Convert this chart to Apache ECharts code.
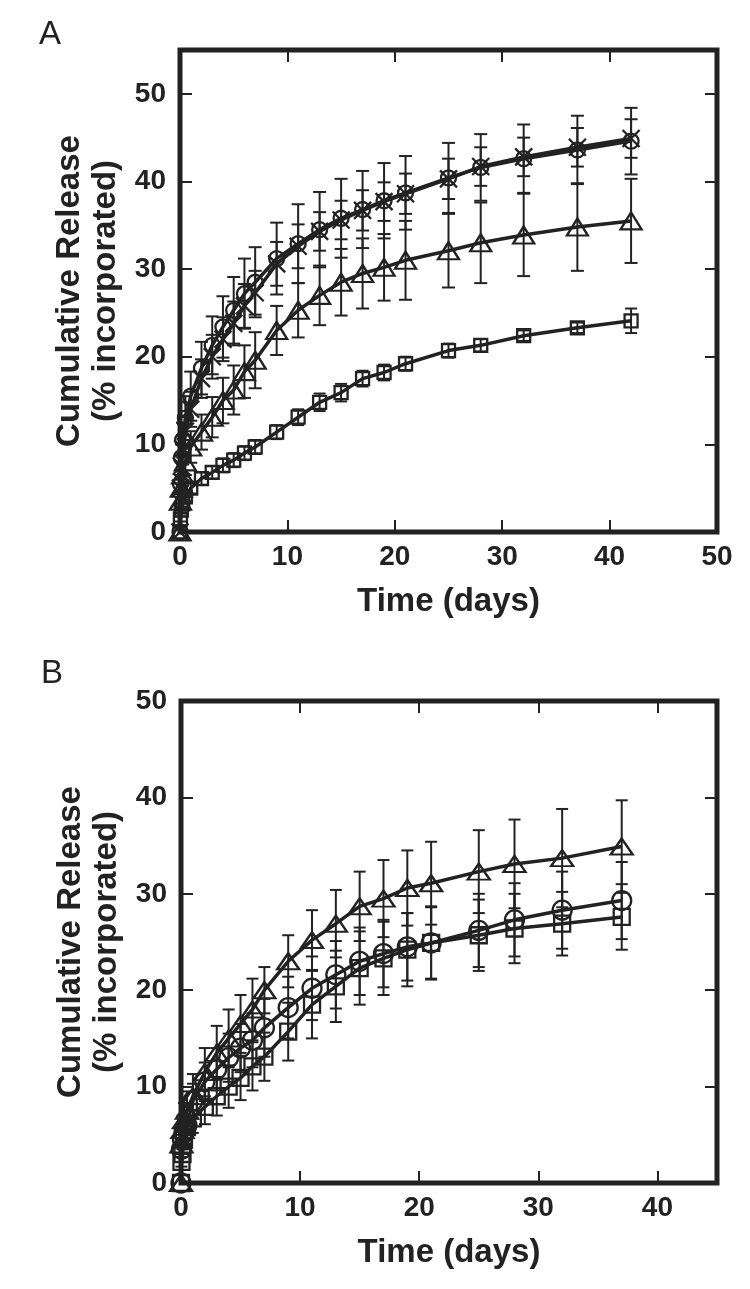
<!DOCTYPE html>
<html>
<head>
<meta charset="utf-8">
<script src="https://cdn.jsdelivr.net/npm/echarts@6/dist/echarts.min.js"></script>
<style>
html,body{margin:0;padding:0;background:#fff;}
#chart{width:750px;height:1289px;}
</style>
</head>
<body>
<div id="chart"></div>
<script>
// ---------- Panel A data ----------
const timeA = [0, 0.04, 0.125, 0.25, 0.5, 1, 2, 3, 4, 5, 6, 7, 9, 11, 13, 15, 17, 19, 21, 25, 28, 32, 37, 42];
const aCircle    = [0, 5.5, 8.5, 10.5, 13, 15.5, 18.7, 21.3, 23.4, 25.3, 27.2, 28.5, 31.2, 32.9, 34.5, 35.8, 36.8, 37.8, 38.7, 40.4, 41.6, 42.6, 43.6, 44.6];
const aCircleErr = [0, 1, 1.5, 2, 2.5, 2.8, 3, 3.3, 3.5, 3.8, 4, 4, 4.1, 4.5, 4.3, 4.5, 4.4, 4.3, 4.2, 4, 3.8, 3.9, 3.9, 3.8];
const aCross     = [0, 5, 7.5, 9.5, 11.5, 14, 17.5, 20, 22, 23.8, 25.8, 27.3, 30.6, 32.6, 34.3, 35.6, 36.7, 37.7, 38.6, 40.3, 41.7, 42.8, 43.9, 44.9];
const aCrossErr  = [0, 1, 1.2, 1.5, 1.8, 2, 2.2, 2.5, 2.5, 2.5, 2.5, 2.5, 2.5, 2.5, 2.2, 2.2, 2.3, 2.2, 2.3, 2.3, 2.2, 2.2, 2.2, 2.2];
const aTri       = [0, 3.5, 5, 6.5, 8, 9.7, 11.4, 13.1, 15, 16.2, 18.3, 19.6, 23, 25.3, 27, 28.5, 29.5, 30.2, 31, 32.1, 33, 33.9, 34.8, 35.5];
const aTriErr    = [0, 0.8, 1, 1.2, 1.5, 1.8, 2, 2.3, 2.6, 2.8, 3, 3.2, 2.8, 3.1, 3.4, 3.8, 4, 3.8, 4.5, 4.2, 4.6, 4.7, 5, 4.8];
const aSq        = [0, 1.5, 2.5, 3.2, 4, 5, 6.1, 6.8, 7.6, 8.2, 9, 9.7, 11.4, 13.1, 14.8, 15.9, 17.5, 18.2, 19.2, 20.7, 21.3, 22.4, 23.3, 24.1];
const aSqErr     = [0, 0.3, 0.4, 0.5, 0.5, 0.6, 0.7, 0.7, 0.8, 0.8, 0.8, 0.8, 0.8, 0.9, 1, 1, 0.9, 0.9, 0.8, 0.8, 0.7, 0.6, 0.6, 1.4];

// ---------- Panel B data ----------
const timeB = [0, 0.04, 0.125, 0.25, 0.5, 1, 2, 3, 4, 5, 6, 7, 9, 11, 13, 15, 17, 19, 21, 25, 28, 32, 37];
const bTri       = [0, 4, 5.5, 6.5, 7.5, 9, 11.5, 13.5, 15, 16.5, 18, 20, 23, 25.2, 26.9, 28.7, 29.5, 30.6, 31.1, 32.3, 33.1, 33.7, 34.9];
const bTriErr    = [0, 1, 1.5, 1.8, 2, 2.3, 2.5, 2.8, 3, 3, 3.2, 2.4, 2.7, 3.1, 3.5, 3.6, 4, 3.9, 4.3, 4.3, 4.6, 5.1, 4.8];
const bCircle    = [0, 3.5, 4.5, 5.2, 6, 8.5, 10.5, 11.8, 13, 14, 14.8, 16.1, 18.2, 20.2, 21.6, 23, 23.8, 24.5, 24.9, 26.2, 27.3, 28.3, 29.3];
const bCircleErr = [0, 0.8, 1, 1.2, 1.5, 1.8, 2, 2.2, 2.5, 2.5, 2.8, 3, 3.2, 3.3, 3.5, 3.5, 3.5, 3.5, 3.7, 3.8, 3.8, 4, 4];
const bSq        = [0, 2.2, 3, 4.5, 5.8, 6.7, 7.9, 9, 10, 10.9, 12.1, 13.1, 15.7, 18.5, 20.4, 22.3, 23.3, 24.2, 24.9, 25.7, 26.4, 26.9, 27.6];
const bSqErr     = [0, 0.5, 0.8, 1, 1.2, 1.5, 1.8, 2, 2.2, 2.3, 2.5, 2.5, 3, 3.5, 3.7, 3.8, 3.8, 3.8, 3.8, 3.7, 3.6, 3.3, 3.4];

// ---------- axis / label text ----------
const xTicksA = [0, 10, 20, 30, 40, 50];
const yTicksA = [0, 10, 20, 30, 40, 50];
const xTicksB = [0, 10, 20, 30, 40];
const yTicksB = [0, 10, 20, 30, 40, 50];
const xTitle = 'Time (days)';
const yTitle = 'Cumulative Release\n(% incorporated)';
const panelLabels = ['A', 'B'];

const INK = '#222';
const FONT = '"Liberation Sans", Arial, Helvetica, sans-serif';

function pairs(t, v) { return t.map((x, i) => [x, v[i]]); }
function triples(t, v, e) { return t.map((x, i) => [x, v[i], e[i]]); }

function errRender(hw) {
  return function (params, api) {
    const x = api.value(0), y = api.value(1), e = api.value(2);
    if (!e) return null;
    const top = api.coord([x, y + e]);
    const bot = api.coord([x, y - e]);
    const st = { stroke: INK, lineWidth: 2 };
    return {
      type: 'group',
      children: [
        { type: 'line', shape: { x1: top[0], y1: top[1], x2: bot[0], y2: bot[1] }, style: st },
        { type: 'line', shape: { x1: top[0] - hw, y1: top[1], x2: top[0] + hw, y2: top[1] }, style: st },
        { type: 'line', shape: { x1: bot[0] - hw, y1: bot[1], x2: bot[0] + hw, y2: bot[1] }, style: st }
      ]
    };
  };
}

const CROSS = 'path://M0,0L10,10M10,0L0,10';

function lineSeries(idx, t, v, symbol, size, lw) {
  return {
    type: 'line', xAxisIndex: idx * 2, yAxisIndex: idx * 2,
    data: pairs(t, v), symbol: symbol, symbolSize: size, showAllSymbol: true,
    lineStyle: { color: INK, width: lw },
    itemStyle: { color: 'rgba(0,0,0,0)', borderColor: INK, borderWidth: 2.3 },
    z: 3, animation: false, silent: true
  };
}
function errSeries(idx, t, v, e, hw) {
  return {
    type: 'custom', xAxisIndex: idx * 2, yAxisIndex: idx * 2,
    data: triples(t, v, e), renderItem: errRender(hw),
    encode: { x: 0, y: 1 }, z: 2, animation: false, silent: true, clip: false
  };
}

function tick() { return { show: true, inside: true, length: 12, lineStyle: { color: INK, width: 2 } }; }

function xAxes(grid, max, ticks) {
  const lbl = ticks.map(String);
  return [
    {
      type: 'value', gridIndex: grid, min: 0, max: max, interval: 10, position: 'bottom',
      axisLine: { show: false, onZero: false },
      axisTick: tick(),
      axisLabel: { color: INK, fontFamily: FONT, fontWeight: 'bold', fontSize: 28, margin: 11,
        formatter: v => lbl.indexOf(String(v)) >= 0 ? String(v) : '' },
      splitLine: { show: false },
      name: xTitle, nameLocation: 'middle', nameGap: 53,
      nameTextStyle: { color: INK, fontFamily: FONT, fontWeight: 'bold', fontSize: 33 }
    },
    {
      type: 'value', gridIndex: grid, min: 0, max: max, interval: 10, position: 'top',
      axisLine: { show: false, onZero: false },
      axisTick: tick(),
      axisLabel: { show: false }, splitLine: { show: false }
    }
  ];
}
function yAxes(grid, max, ticks) {
  const lbl = ticks.map(String);
  return [
    {
      type: 'value', gridIndex: grid, min: 0, max: max, interval: 10, position: 'left',
      axisLine: { show: false, onZero: false },
      axisTick: tick(),
      axisLabel: { color: INK, fontFamily: FONT, fontWeight: 'bold', fontSize: 28, margin: 14,
        formatter: v => lbl.indexOf(String(v)) >= 0 ? String(v) : '' },
      splitLine: { show: false },
      name: yTitle, nameLocation: 'middle', nameGap: 56, nameRotate: 90,
      nameTextStyle: { color: INK, fontFamily: FONT, fontWeight: 'bold', fontSize: 33, lineHeight: 36 }
    },
    {
      type: 'value', gridIndex: grid, min: 0, max: max, interval: 10, position: 'right',
      axisLine: { show: false, onZero: false },
      axisTick: tick(),
      axisLabel: { show: false }, splitLine: { show: false }
    }
  ];
}

const chart = echarts.init(document.getElementById('chart'), null, { renderer: 'canvas' });
const option = {
  backgroundColor: '#fff',
  animation: false,
  title: [
    { text: panelLabels[0], left: 34, top: 13, textStyle: { color: INK, fontFamily: FONT, fontWeight: 'normal', fontSize: 33 } },
    { text: panelLabels[1], left: 36, top: 652, textStyle: { color: INK, fontFamily: FONT, fontWeight: 'normal', fontSize: 33 } }
  ],
  grid: [
    { left: 180, top: 50, width: 537, height: 482, show: true, borderColor: INK, borderWidth: 5, backgroundColor: 'transparent' },
    { left: 181, top: 701, width: 536, height: 482, show: true, borderColor: INK, borderWidth: 5, backgroundColor: 'transparent' }
  ],
  xAxis: [].concat(xAxes(0, 50, xTicksA), xAxes(1, 45, xTicksB)),
  yAxis: [].concat(yAxes(0, 55, yTicksA), yAxes(1, 50, yTicksB)),
  series: [
    // Panel A
    errSeries(0, timeA, aSq, aSqErr, 6),
    errSeries(0, timeA, aTri, aTriErr, 6.5),
    errSeries(0, timeA, aCross, aCrossErr, 6.5),
    errSeries(0, timeA, aCircle, aCircleErr, 6.5),
    lineSeries(0, timeA, aSq, 'rect', 13, 3.5),
    lineSeries(0, timeA, aTri, 'triangle', [21, 17], 3.5),
    lineSeries(0, timeA, aCross, CROSS, 17, 3.5),
    lineSeries(0, timeA, aCircle, 'circle', 15, 3.5),
    // Panel B
    errSeries(1, timeB, bSq, bSqErr, 6),
    errSeries(1, timeB, bCircle, bCircleErr, 6),
    errSeries(1, timeB, bTri, bTriErr, 6),
    lineSeries(1, timeB, bSq, 'rect', 16, 3.5),
    lineSeries(1, timeB, bCircle, 'circle', 19, 3.5),
    lineSeries(1, timeB, bTri, 'triangle', [22, 16], 3.5)
  ]
};
chart.setOption(option);
</script>
</body>
</html>
